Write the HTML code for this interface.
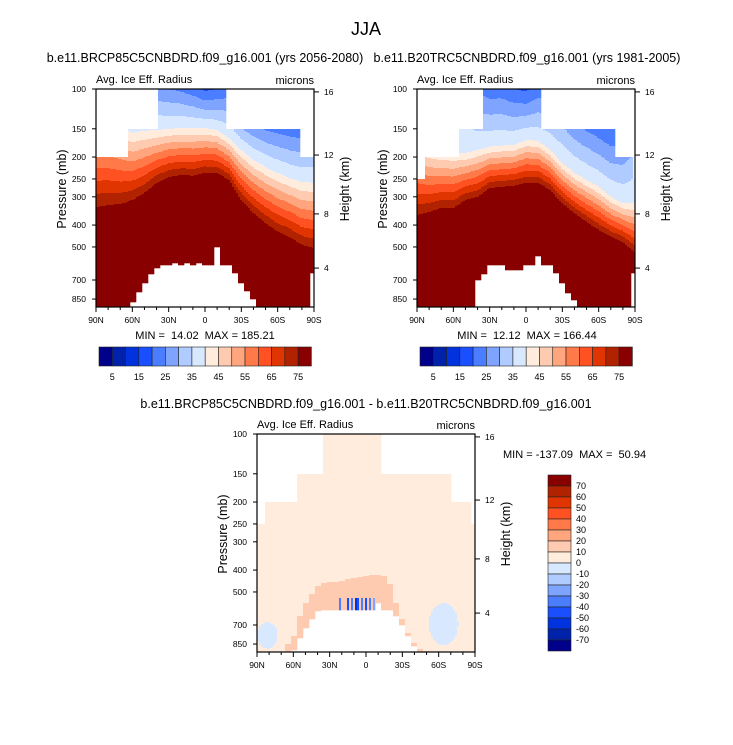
<!DOCTYPE html>
<html><head><meta charset="utf-8"><style>
body{margin:0;background:#fff;}
svg{display:block;font-family:"Liberation Sans",Arial,sans-serif;}
.pre{white-space:pre;}
</style></head><body>
<svg id="root" width="733" height="745" viewBox="0 0 733 745" xmlns="http://www.w3.org/2000/svg">
<rect width="733" height="745" fill="#fff"/>
<text x="366" y="35" font-size="18" text-anchor="middle">JJA</text>
<text x="205" y="62" font-size="12.5" text-anchor="middle">b.e11.BRCP85C5CNBDRD.f09_g16.001 (yrs 2056-2080)</text>
<text x="527" y="62" font-size="12.5" text-anchor="middle">b.e11.B20TRC5CNBDRD.f09_g16.001 (yrs 1981-2005)</text>
<text x="366" y="408" font-size="12.5" text-anchor="middle">b.e11.BRCP85C5CNBDRD.f09_g16.001 - b.e11.B20TRC5CNBDRD.f09_g16.001</text>
<g id="p1"></g>
<g id="p2"></g>
<g id="p3"></g>
<text class="pre" x="205" y="339" font-size="11" text-anchor="middle">MIN =  14.02  MAX = 185.21</text>
<text class="pre" x="527" y="339" font-size="11" text-anchor="middle">MIN =  12.12  MAX = 166.44</text>
<text class="pre" x="503" y="458" font-size="11">MIN = -137.09  MAX =  50.94</text>
<g id="cb1"></g>
<g id="cb2"></g>
<g id="cb3"></g>
</svg>
<script>
// ---- data ----
const palette = ["#00008a","#0022aa","#0033dd","#1a4fff","#4a7dff","#7ea4ff","#b0cbff","#d8e9ff","#ffecdc","#ffcbb0","#ffa67e","#ff7a48","#ff5122","#e03500","#b02200","#880000"];
const profileLats = [90,80,70,60,50,40,30,20,10,0,-10,-20,-30,-40,-50,-60,-70,-80,-90];
// panel 1 (future)
const p1Value100 = [35,34,32,30,28,26,25,24,22,19,20,22,12,10,8,8,8,8,10];
const p1Press40 = [130,135,145,156,153,152,150,149,149,149,152,165,186,206,221,235,248,258,260];
const p1Press75 = [333,326,323,310,288,260,245,240,242,235,235,253,310,354,392,428,451,490,505];
// panel 2 (historical)
const p2Value100 = [30,30,30,28,28,24,22,22,20,19,22,22,20,15,12,10,8,10,18];
const p2Press40 = [170,185,190,192,192,186,180,178,177,168,170,186,213,235,253,271,300,320,320];
const p2Press75 = [361,350,336,336,310,300,274,271,268,260,260,280,320,355,387,420,451,475,530];
// ground (missing below) at 5 deg: 90N..90S
const p1Ground = [1000,1000,1000,1000,1000,1000,880,790,720,660,620,600,600,590,600,590,600,590,600,600,500,600,600,650,720,780,850,1000,1000,1000,1000,1000,1000,1000,1000,1000,650];
const p2Ground = [1000,1000,1000,1000,1000,1000,1000,1000,1000,1000,700,660,600,600,600,630,630,630,600,600,550,600,600,650,720,800,860,1000,1000,1000,1000,1000,1000,1000,1000,1000,650];
const p3Ground = [1000,1000,1000,1000,1000,1000,900,800,720,660,610,600,600,600,600,600,600,600,600,600,560,600,600,640,700,780,870,1000,1000,1000,1000,1000,1000,1000,1000,1000,1000];
// data top (lat from, lat to, top pressure)
const p1TopLat0 = [90,64,39,-17,-79], p1TopLat1 = [64,39,-17,-79,-90], p1TopP = [200,150,100,150,200];
const p2TopLat0 = [90,83,56,35,-13,-73,-88], p2TopLat1 = [83,56,35,-13,-73,-88,-90], p2TopP = [250,200,150,100,150,200,250];
const p3TopLat0 = [90,83,57,35,-12,-71,-87], p3TopLat1 = [83,57,35,-12,-71,-87,-90], p3TopP = [250,200,150,100,150,200,250];
// difference panel features
const p3ArchTop = [1000,1000,1000,1000,920,850,780,640,560,510,470,455,450,450,445,440,435,430,425,420,420,425,460,560,660,760,840,890,910,920,1000,1000,1000,1000,1000,1000,1000];
const blobLat0 = [90,-52], blobLat1 = [73,-76], blobP0 = [680,560], blobP1 = [890,860], blobVal = [-5,-5];
const streakLat = [22,19,15,12,9,6,3,0,-3,-6];
const streakVal = [-35,-45,-50,-40,-55,-45,-35,-50,-40,-30];
const pressTicks = [100,150,200,250,300,400,500,700,850];
const heightTicks = [4,8,12,16];
const heightTickP = [620,357,196,103];
const latTicks = [90,60,30,0,-30,-60,-90];
const latLabels = ["90N","60N","30N","0","30S","60S","90S"];
const cbLabels1 = [5,15,25,35,45,55,65,75];
const cbLabels3 = [70,60,50,40,30,20,10,0,-10,-20,-30,-40,-50,-60,-70];

// ---- rendering ----
const NS="http://www.w3.org/2000/svg";
const W=218,H=218,K=226;
function mk(tag,attrs,parent){const e=document.createElementNS(NS,tag);for(const k in attrs)e.setAttribute(k,attrs[k]);parent.appendChild(e);return e;}
function yOfP(y0,p){return y0+K*Math.log10(p/100);}
function xOfLat(x0,lat){return x0+(90-lat)/180*W;}
function interp(arr,lat){const f=(90-lat)/10;const i=Math.max(0,Math.min(17,Math.floor(f)));const t=f-i;return arr[i]*(1-t)+arr[i+1]*t;}
function near5(arr,lat){return arr[Math.max(0,Math.min(36,Math.round((90-lat)/5)))];}
function topOf(l0,l1,tp,lat){for(let i=0;i<tp.length;i++){if(lat<=l0[i]&&lat>=l1[i])return tp[i];}return tp[tp.length-1];}
function profileVal(v100,p40,p75,lat,p){
  const a=interp(v100,lat),b=Math.log10(interp(p40,lat)),c=Math.log10(interp(p75,lat)),L=Math.log10(p);
  if(L>=c)return 100; if(L>=b)return 40+35*(L-b)/(c-b); return a+(40-a)*(L-2)/(b-2);
}
function bin12(v){return v<5?0:Math.min(15,Math.floor(v/5));}
function bin3(v){return Math.max(0,Math.min(15,Math.floor((v+80)/10)));}
function diffVal(lat,p){
  let v = p>=near5(p3ArchTop,lat)?15:5;
  for(let i=0;i<blobLat0.length;i++){
    const cl=(blobLat0[i]+blobLat1[i])/2, rl=Math.abs(blobLat0[i]-blobLat1[i])/2;
    const cp=(Math.log10(blobP0[i])+Math.log10(blobP1[i]))/2, rp=Math.abs(Math.log10(blobP1[i])-Math.log10(blobP0[i]))/2;
    const dl=(lat-cl)/rl, dp=(Math.log10(p)-cp)/rp; if(dl*dl+dp*dp<=1)v=blobVal[i];
  }
  if(p>=530&&p<=600){for(let i=0;i<streakLat.length;i++){if(Math.abs(lat-streakLat[i])<0.8)v=streakVal[i];}}
  return v;
}
function drawField(g,x0,y0,valFn,binFn,tl0,tl1,tp,ground){
  const fg=mk('g',{},g);
  
  
  for(let cx=0;cx<W;cx+=2){
    const lat=90-(cx+1)/W*180;
    const top=topOf(tl0,tl1,tp,lat), gp=near5(ground,lat);
    let runB=-2,runS=0;
    for(let py=0;py<=H;py++){
      let b=-2;
      if(py<H){const p=100*Math.pow(10,(py+0.5)/K); b=(p<top||p>=gp)?-1:binFn(valFn(lat,p));}
      if(b!==runB){
        if(runB>=0){const r=mk('rect',{x:x0+cx,y:y0+runS,width:2.3,height:py-runS+0.3,fill:palette[runB]},fg);
          
          }
        runB=b;runS=py;
      }
    }
  }
}
function drawAxes(g,x0,y0){
  const fr=mk('rect',{x:x0,y:y0,width:W,height:H,fill:'none',stroke:'#000','stroke-width':1.2},g);
  
  
  pressTicks.forEach(p=>{const y=yOfP(y0,p);
    mk('line',{x1:x0-4,x2:x0,y1:y,y2:y,stroke:'#000'},g);
    const t=mk('text',{x:x0-10,y:y+3,'font-size':8.5,'text-anchor':'end'},g);t.textContent=p;
    
    });
  heightTicks.forEach((h,i)=>{const y=yOfP(y0,heightTickP[i]);
    mk('line',{x1:x0+W,x2:x0+W+5,y1:y,y2:y,stroke:'#000'},g);
    const t=mk('text',{x:x0+W+10,y:y+3,'font-size':8.5},g);t.textContent=h;
    
    });
  for(let lat=90;lat>=-90;lat-=10){const x=xOfLat(x0,lat);mk('line',{x1:x,x2:x,y1:y0+H,y2:y0+H+(lat%30===0?5:3),stroke:'#000'},g);}
  latTicks.forEach((lat,i)=>{const t=mk('text',{x:xOfLat(x0,lat),y:y0+H+16,'font-size':8.5,'text-anchor':'middle'},g);t.textContent=latLabels[i];
    
    });
  const a=mk('text',{x:x0,y:y0-6,'font-size':11},g);a.textContent='Avg. Ice Eff. Radius';
  
  
  const u=mk('text',{x:x0+W,y:y0-5,'font-size':11,'text-anchor':'end'},g);u.textContent='microns';
  
  
  const yl=mk('text',{x:0,y:0,'font-size':12.5,'text-anchor':'middle',transform:`translate(${x0-30},${y0+H/2-9}) rotate(-90)`},g);yl.textContent='Pressure (mb)';
  
  
  const hl=mk('text',{x:0,y:0,'font-size':12.5,'text-anchor':'middle',transform:`translate(${x0+W+35},${y0+H/2-9}) rotate(-90)`},g);hl.textContent='Height (km)';
  
  
}
const g1=document.getElementById('p1'),g2=document.getElementById('p2'),g3=document.getElementById('p3');
drawField(g1,96,89,(l,p)=>profileVal(p1Value100,p1Press40,p1Press75,l,p),bin12,p1TopLat0,p1TopLat1,p1TopP,p1Ground);
drawAxes(g1,96,89);
drawField(g2,417,89,(l,p)=>profileVal(p2Value100,p2Press40,p2Press75,l,p),bin12,p2TopLat0,p2TopLat1,p2TopP,p2Ground);
drawAxes(g2,417,89);
drawField(g3,257,434,diffVal,bin3,p3TopLat0,p3TopLat1,p3TopP,p3Ground);
drawAxes(g3,257,434);
// horizontal colorbars
[[document.getElementById('cb1'),99],[document.getElementById('cb2'),420]].forEach(([g,x0])=>{
  const bw=212.4/16;
  for(let i=0;i<16;i++){const r=mk('rect',{x:x0+i*bw,y:347,width:bw,height:19,fill:palette[i],stroke:'#222','stroke-width':0.6},g);
    
    }
  cbLabels1.forEach(v=>{const t=mk('text',{x:x0+(v/5)*bw,y:380,'font-size':9,'text-anchor':'middle'},g);t.textContent=v;
    
    });
});
// vertical colorbar
{const g=document.getElementById('cb3');const bh=176/16;
  for(let i=0;i<16;i++){const r=mk('rect',{x:548,y:475+i*bh,width:23,height:bh,fill:palette[15-i],stroke:'#222','stroke-width':0.6},g);
    
    }
  cbLabels3.forEach(v=>{const k=(70-v)/10+1;const t=mk('text',{x:576,y:475+k*bh+3,'font-size':9},g);t.textContent=v;
    
    });
}
</script>
</body></html>
